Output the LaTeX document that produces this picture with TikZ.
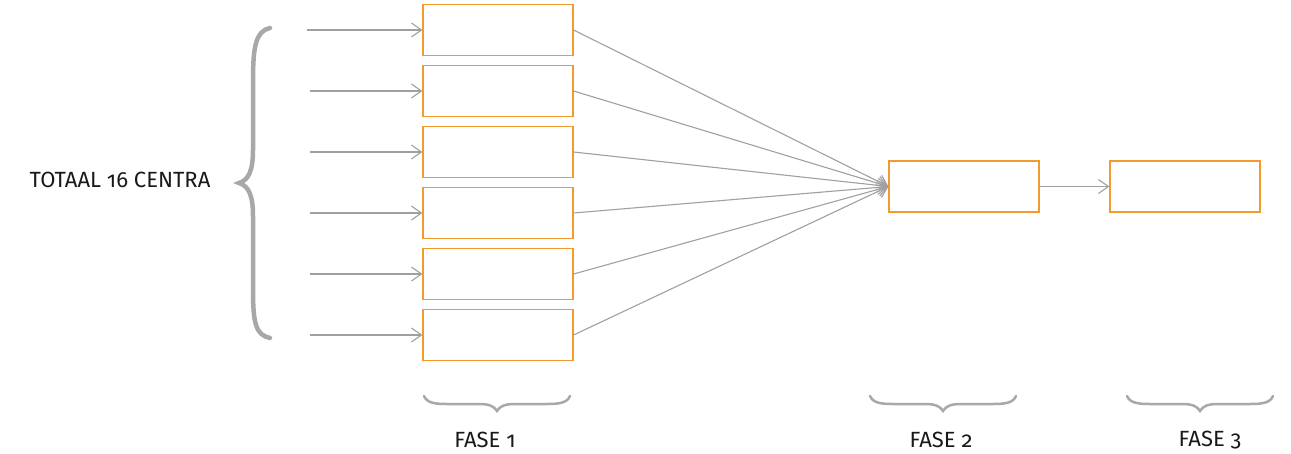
\documentclass[tikz,border=0pt]{standalone}
\usepackage{fontspec}
\setmainfont{Fira Sans}[Numbers=OldStyle]
\usetikzlibrary{arrows.meta}
\definecolor{boxorange}{HTML}{F39A2E}
\definecolor{linegray}{HTML}{A0A0A0}
\definecolor{bracegray}{HTML}{A8A8A8}
\tikzset{
  stagebox/.style={draw=boxorange, line width=1.2pt, minimum width=150pt, minimum height=51pt, inner sep=0pt, fill=white},
  conn/.style={draw=linegray, line width=1.1pt, -{Straight Barb[length=10pt,width=14pt,line width=1.1pt]}},
  bigbrace/.style={draw=bracegray, line width=4.5pt, line cap=round},
  smallbrace/.style={draw=bracegray, line width=2.5pt, line cap=round},
  label/.style={font=\fontsize{22pt}{26pt}\selectfont, text=black!90, inner sep=0pt}
}
\begin{document}
\begin{tikzpicture}[x=1pt,y=-1pt]
\useasboundingbox (0,0) rectangle (1291,453);
% phase 1 boxes
\foreach \i/\y in {1/30,2/91,3/152,4/213,5/274,6/335}{
  \node[stagebox] (b\i) at (498,\y) {};
}
\node[stagebox] (f2) at (964,186.5) {};
\node[stagebox] (f3) at (1185,186.5) {};
% input arrows
\coordinate (s1) at (307,30);
\coordinate (s2) at (310,91);
\coordinate (s3) at (310,152);
\coordinate (s4) at (310,213);
\coordinate (s5) at (310,274);
\coordinate (s6) at (310,335);
\foreach \i in {1,...,6}{
  \draw[conn] (s\i) -- (b\i.west);
}
% converging
\foreach \i in {1,...,6}{
  \draw[conn] (b\i.east) -- (f2.west);
}
\draw[conn] (f2.east) -- (f3.west);
% big brace
\draw[bigbrace] (270,28) .. controls (256,31) and (253,46) .. (253,80) -- (253,150)
  .. controls (253,170) and (249,180) .. (239,183)
  .. controls (249,186) and (253,196) .. (253,216) -- (253,290)
  .. controls (253,324) and (256,335) .. (270,338);
% small braces
\foreach \cx/\n in {497/a,943/b,1200/c}{
  \draw[smallbrace] (\cx-73,396) .. controls (\cx-70,403) and (\cx-62,404) .. (\cx-50,404)
    -- (\cx-18,404) .. controls (\cx-8,404) and (\cx-3,406) .. (\cx,411)
    .. controls (\cx+3,406) and (\cx+8,404) .. (\cx+18,404)
    -- (\cx+50,404) .. controls (\cx+62,404) and (\cx+70,403) .. (\cx+73,396);
}
% labels
\node[label] (tot) at (120,180) {TOTAAL 16 CENTRA};
\node[label] (l1) at (485,440) {FASE 1};
\node[label] (l2) at (941,440) {FASE 2};
\node[label] (l3) at (1210,440) {FASE 3};
\end{tikzpicture}
\end{document}
